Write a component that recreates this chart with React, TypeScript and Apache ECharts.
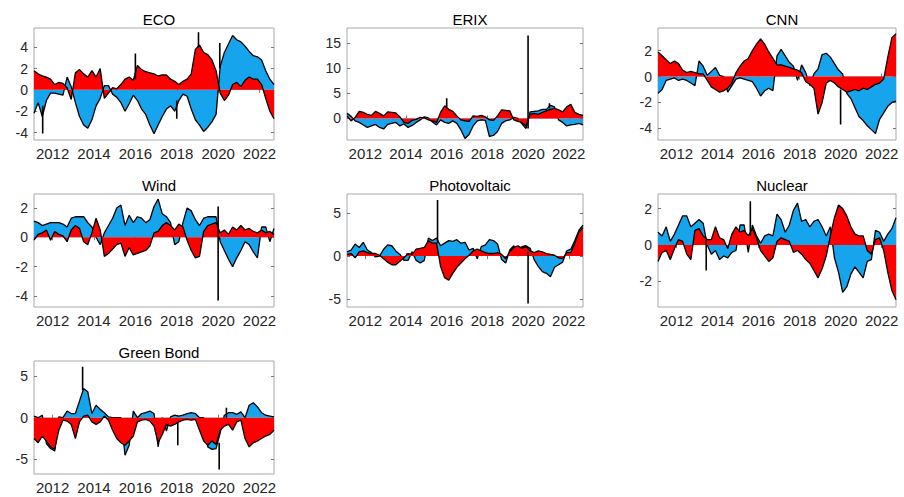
import React, { useEffect, useRef } from "react";
import * as echarts from "echarts";

// ---------- data ----------
const years = [
  2011.1, 2011.3, 2011.5, 2011.7, 2011.9,
  2012.1, 2012.3, 2012.5, 2012.7, 2012.9,
  2013.1, 2013.3, 2013.5, 2013.7, 2013.9,
  2014.1, 2014.3, 2014.5, 2014.7, 2014.9,
  2015.1, 2015.3, 2015.5, 2015.7, 2015.9,
  2016.1, 2016.3, 2016.5, 2016.7, 2016.9,
  2017.1, 2017.3, 2017.5, 2017.7, 2017.9,
  2018.1, 2018.3, 2018.5, 2018.7, 2018.9,
  2019.1, 2019.3, 2019.5, 2019.7, 2019.9,
  2020.1, 2020.3, 2020.5, 2020.7, 2020.9,
  2021.1, 2021.3, 2021.5, 2021.7, 2021.9,
  2022.1, 2022.3, 2022.5, 2022.7,
];

const xTickYears = [2012, 2014, 2016, 2018, 2020, 2022];

const titles = ["ECO", "ERIX", "CNN", "Wind", "Photovoltaic", "Nuclear", "Green Bond"];

const ecoRed = [
  1.8, 1.5, 1.3, 1.2, 1.0, 0.5, 0.7, 0.6, 0.2, -0.9,
  1.6, 1.9, 1.5, 1.2, 1.8, 1.2, 2.0, -0.8, -0.3, 0.2,
  0.1, 0.5, 1.0, 1.2, 0.9, 2.3, 1.9, 1.7, 1.6, 1.5,
  1.3, 1.4, 1.4, 1.0, 0.8, 0.5, 0.8, 1.0, 1.5, 3.8,
  4.2, 3.5, 3.3, 2.8, 1.8, -0.3, -1.0, -0.5, 0.5, 0.7,
  0.3, 0.9, 1.2, 1.0, 1.0, 0.5, -0.8, -2.0, -2.7,
];
const ecoBlue = [
  -2.2, -1.2, -2.5, -1.0, -0.3, -0.3, -0.4, -0.5, 1.0, 0.3,
  -1.2, -2.5, -3.3, -3.6, -2.8, -1.5, -0.8, 0.4, 0.4, -0.4,
  -0.7, -1.2, -2.0, -1.3, -0.5, -1.0, -1.8, -2.3, -3.3, -4.1,
  -3.3, -2.5, -1.8, -1.5, -2.0, -1.0, -0.4, -0.6, -1.8, -2.8,
  -3.3, -3.9, -3.5, -3.0, -2.3, 2.2, 3.5, 4.3, 4.6, 4.0,
  4.2, 3.2, 2.4, 2.2, 2.1, 2.3, 1.8, 1.0, 0.5,
];
const ecoSpikes = [
  [2011.52, -1.5, -4.1], [2016.0, 1.0, 3.4], [2018.0, -1.0, -2.7],
  [2019.05, 4.0, 5.4], [2020.08, 2.0, 4.4],
];

const erixRed = [
  0.5, -0.5, 0.2, 1.4, 1.2, 0.8, 0.6, 1.4, 1.0, 0.5,
  1.3, 1.2, 1.1, 0.3, -0.8, -1.0, -0.4, -0.2, 0.2, 0.1,
  -0.3, -0.5, -0.8, 1.2, 2.5, 1.8, 1.4, 0.5, -0.3, -0.5,
  -0.6, 0.5, 0.4, 0.6, 0.3, -0.3, -0.4, 0.5, 1.7, 1.6,
  1.5, -0.3, -0.6, -0.8, -1.5, 0.8, 1.0, 0.8, 1.2, 1.5,
  1.8, 2.0, 1.7, 1.3, 2.3, 2.8, 1.2, 0.8, 0.6,
];
const erixBlue = [
  0.5, 0.4, -0.5, -0.8, -1.3, -1.8, -1.5, -1.2, -1.8, -2.1,
  -1.2, -1.0, -0.8, -1.5, -0.3, -0.8, -1.0, -0.6, -0.3, 0.2,
  0.1, -0.2, -0.5, -0.3, -0.8, -1.0, -0.5, -1.0, -2.0, -3.5,
  -2.6, -1.5, -0.5, -0.3, -0.4, -3.3, -3.0, -2.6, -1.0, -0.5,
  -0.3, 0.2, 0.0, -0.3, -0.5, 0.5, 0.4, 0.7, 0.6, 0.3,
  0.8, 0.3, -0.3, -0.8, -1.5, -1.3, -1.2, -1.0, -1.3,
];
const erixSpikes = [[2016.0, 2.0, 4.0], [2020.0, -2.0, 16.5], [2021.05, 2.0, 3.0]];

const cnnRed = [
  1.9, 1.6, 1.3, 1.0, 1.2, 1.0, 0.5, 0.3, 0.4, 0.3,
  0.2, 0.2, -0.3, -0.8, -1.0, -1.2, -1.1, -0.9, -0.5, 0.3,
  0.8, 1.2, 1.4, 2.0, 2.5, 2.9, 2.5, 1.9, 1.4, 0.9,
  0.9, 0.8, 0.7, 0.6, 0.5, 0.3, -0.4, -0.6, -0.9, -2.9,
  -2.0, -0.5, -0.3, -0.5, -0.8, -1.0, -1.2, -1.1, -1.0, -1.1,
  -0.9, -1.0, -0.8, -0.6, -0.5, -0.2, 1.5, 3.0, 3.3,
];
const cnnBlue = [
  -1.3, -1.0, -0.3, -0.2, -0.1, -0.3, -0.2, -0.3, -0.5, -0.7,
  1.0, 0.6, 0.1, 0.4, 0.7, 0.1, 0.0, -0.3, -0.2, -0.2,
  -0.1, -0.2, -0.3, -0.4, -0.9, -1.5, -1.1, -0.9, -1.1, 0.7,
  1.2, 0.8, 0.4, 0.2, -0.3, 0.6, 0.3, -0.1, 0.2, 0.6,
  1.7, 1.8, 1.5, 1.0, 0.5, 0.2, -0.1, -0.6, -1.4, -2.0,
  -2.5, -2.8, -3.3, -3.8, -2.8, -2.6, -2.3, -2.0, -1.9,
];
const cnnSpikes = [[2020.0, -1.0, -3.7]];

const windRed = [
  -0.2, 0.2, 0.3, 0.5, -0.2, 0.4, 0.2, 0.1, -0.3, 0.5,
  0.8, 0.6, -0.3, -0.5, 0.3, 1.3, 0.5, -1.3, -1.1, -0.8,
  -0.5, -0.4, -1.3, -0.7, -1.2, -1.1, -1.0, -0.9, -0.6, 0.3,
  0.4, 0.8, 1.0, 0.8, 0.5, 0.9, 0.7, -0.2, -0.9, -1.4,
  -1.3, 0.4, 0.8, 0.9, 1.0, 0.3, 0.5, 0.2, 0.7, 0.5,
  0.8, 0.5, 0.6, 0.4, 0.3, 0.5, 0.3, 0.4, 0.2,
];
const windBlue = [
  1.1, 0.8, 0.5, 0.4, 1.0, 0.6, 0.8, 0.8, 0.7, 0.8,
  0.6, 0.8, 1.4, 1.0, 0.4, 0.0, -0.5, 0.3, 0.8, 1.3,
  2.0, 2.2, 0.8, 1.5, 1.0, 1.4, 1.3, 1.0, 1.2, 1.8,
  2.2, 0.8, 0.4, 0.2, -0.5, -0.3, 0.3, 2.0, 1.8, 1.2,
  0.8, 0.9, 0.6, 0.5, 0.4, -0.3, -0.9, -1.5, -2.0, -1.4,
  -0.9, -0.3, -0.5, -1.0, -1.4, 0.2, 0.4, -0.3, 0.4,
];
const windSpikes = [[2020.0, 2.1, -4.3]];

const pvRed = [
  0.2, 0.3, -0.2, 0.5, 0.6, 0.4, 0.3, 0.3, 0.1, -0.3,
  -0.7, -1.0, -1.0, -0.6, -0.2, 0.3, 0.2, 0.8, 0.9, 1.0,
  1.8, 1.5, 1.5, -1.2, -2.5, -2.8, -2.0, -1.3, -0.8, -0.3,
  0.1, 0.6, 0.8, 0.6, 0.4, 0.3, 0.3, 0.4, 0.2, -0.3,
  0.5, 1.0, 1.2, 0.9, 1.1, 0.6, 0.4, 0.6, 0.5, 0.3,
  0.2, 0.1, -0.2, -0.3, 0.4, 0.4, 1.5, 2.8, 3.3,
];
const pvBlue = [
  0.3, 0.4, 1.4, 0.5, 1.0, 0.3, 0.1, -0.1, 0.0, 0.8,
  1.3, 1.2, 0.6, 0.2, -0.3, -0.5, 0.3, -0.5, -0.8, -0.5,
  0.3, 0.3, 0.6, 1.2, 1.5, 1.8, 1.7, 1.9, 1.5, 1.6,
  0.6, 0.3, -0.3, 0.5, 0.9, 1.6, 1.5, 1.0, -0.4, -0.5,
  0.2, 0.2, 0.0, 0.2, 0.1, 0.3, -0.4, -1.2, -1.8, -2.0,
  -2.4, -1.3, -0.8, -0.4, 0.2, 0.4, 0.3, 0.2, 0.3,
];
const pvSpikes = [[2015.55, 1.5, 6.5], [2020.0, 0.5, -5.5]];

const nuclearRed = [
  -0.9, -0.4, -0.3, -0.8, -0.2, 0.3, 0.2, -0.5, -0.8, 0.8,
  0.9, 0.5, 0.3, 0.3, 1.0, 0.4, 0.3, -0.2, 0.6, 1.0,
  0.7, 0.8, 0.5, 0.9, 0.4, -0.3, -0.6, -0.9, -0.7, 0.2,
  0.4, 0.3, 0.2, -0.4, -0.3, -0.5, -0.8, -1.0, -1.4, -1.8,
  -1.3, -0.6, 0.5, 1.5, 2.2, 2.0, 1.6, 1.0, 0.6, 0.5,
  0.5, -0.3, -0.5, 0.3, 0.4, -0.3, -1.5, -2.5, -3.0,
];
const nuclearBlue = [
  0.7, 0.5, 1.0, 0.2, 0.6, 0.8, 1.4, 1.6, 1.0, 0.4,
  0.5, 0.7, 0.0, -0.5, -0.3, -0.8, -0.6, -0.5, -0.4, -0.3,
  0.4, 0.3, -0.4, 0.2, 0.1, 0.1, 0.5, 0.6, 0.5, 1.5,
  1.0, 0.4, 0.9, 1.9, 2.3, 1.3, 1.4, 1.0, 1.3, 1.4,
  1.0, 0.5, 0.5, -0.7, -1.5, -2.6, -2.3, -1.6, -1.2, -1.5,
  -1.8, -0.6, -0.3, 0.5, 0.3, 0.2, 0.6, 0.9, 1.5,
];
const nuclearSpikes = [[2015.6, 0.5, 2.4], [2013.45, 0.3, -1.4]];

const gbRed = [
  -2.5, -3.0, -2.2, -2.8, -3.5, -3.8, -1.5, -0.3, -0.4, -0.8,
  -2.5, -0.5, 0.2, 0.3, -0.5, -0.8, -0.5, 0.2, -0.3, -1.5,
  -2.5, -3.0, -3.3, -2.8, -2.2, -0.5, -0.3, -0.2, -0.4, -1.0,
  -3.0, -2.0, -0.8, -1.0, -0.8, -0.5, -0.3, -0.2, -0.3, -0.2,
  -1.5, -2.8, -3.3, -2.8, -3.2, -1.5, -1.0, -0.8, -1.5, -0.5,
  -0.3, -2.5, -3.5, -3.0, -2.8, -2.5, -2.2, -2.0, -1.5,
];
const gbBlue = [
  0.2, 0.0, 0.3, -0.3, -0.2, -0.2, 0.1, 0.0, 0.8, 0.5,
  0.5, 2.0, 3.3, 2.8, 0.5, 1.5, 1.0, 0.4, 0.1, 0.0,
  0.0, 0.0, -1.2, -0.5, 0.8, 0.0, 0.5, 0.6, 0.8, 0.5,
  -0.5, 0.0, -0.8, 0.1, 0.3, 0.2, 0.3, 0.5, 0.6, 0.5,
  0.0, 0.0, -0.2, -1.0, -0.5, -0.3, 0.3, 0.6, 0.6, 0.4,
  0.7, 0.0, 1.5, 1.8, 1.3, 0.6, 0.3, 0.2, 0.1,
];
const gbSpikes = [
  [2013.45, 3.3, 6.1], [2018.05, -0.5, -3.3], [2020.05, -3.0, -6.2], [2020.4, 0.0, 1.2],
];

const reds = [ecoRed, erixRed, cnnRed, windRed, pvRed, nuclearRed, gbRed];
const blues = [ecoBlue, erixBlue, cnnBlue, windBlue, pvBlue, nuclearBlue, gbBlue];
const spikes = [ecoSpikes, erixSpikes, cnnSpikes, windSpikes, pvSpikes, nuclearSpikes, gbSpikes];

const yMins = [-4.7, -4.3, -4.9, -4.75, -5.9, -3.4, -6.75];
const yMaxs = [5.8, 18, 3.75, 2.95, 7.2, 2.8, 6.8];
const yTicks = [
  [-4, -2, 0, 2, 4],
  [0, 5, 10, 15],
  [-4, -2, 0, 2],
  [-4, -2, 0, 2],
  [-5, 0, 5],
  [-2, 0, 2],
  [-5, 0, 5],
];

// ---------- layout ----------
const colLeft = [34, 347, 658];
const colWidth = [240, 236, 238];
const rowTop = [28, 194, 361];
const rowHeight = [112, 113, 113];

const RED = "#FF0000";
const BLUE = "#16A4EC";
const FONT = "'Liberation Sans', Arial, Helvetica, sans-serif";

function buildOption() {
  const grids: any[] = [];
  const xAxes: any[] = [];
  const yAxes: any[] = [];
  const series: any[] = [];
  const titleList: any[] = [];
  const xMin = years[0];
  const xMax = years[years.length - 1];
  const tickStyle = { show: true, inside: true, length: 3, lineStyle: { color: "#777" } };

  titles.forEach((name, i) => {
    const c = i % 3;
    const r = Math.floor(i / 3);
    const left = colLeft[c];
    const top = rowTop[r];
    const width = colWidth[c];
    const height = rowHeight[r];
    grids.push({
      left, top, width, height,
      show: true, borderColor: "#a8a8a8", borderWidth: 1,
      backgroundColor: "transparent", containLabel: false,
    });
    titleList.push({
      text: name,
      left: left + width / 2,
      top: top - 21,
      textAlign: "center",
      textStyle: { fontSize: 15, fontWeight: "normal", color: "#000", fontFamily: FONT },
    });
    // bottom axis (labels) and top axis (ticks only), like a boxed plot
    xAxes.push({
      type: "value",
      gridIndex: i,
      position: "bottom",
      min: xMin,
      max: xMax,
      axisLine: { show: false },
      splitLine: { show: false },
      axisTick: { ...tickStyle, customValues: xTickYears },
      axisLabel: {
        customValues: xTickYears,
        formatter: (v: number) => String(Math.round(v)),
        fontSize: 15, color: "#262626", margin: 6, fontFamily: FONT,
      },
    });
    xAxes.push({
      type: "value",
      gridIndex: i,
      position: "top",
      min: xMin,
      max: xMax,
      axisLine: { show: false },
      splitLine: { show: false },
      axisTick: { ...tickStyle, customValues: xTickYears },
      axisLabel: { show: false },
    });
    yAxes.push({
      type: "value",
      gridIndex: i,
      position: "left",
      min: yMins[i],
      max: yMaxs[i],
      axisLine: { show: false },
      splitLine: { show: false },
      axisTick: { ...tickStyle, customValues: yTicks[i] },
      axisLabel: {
        customValues: yTicks[i],
        fontSize: 14, color: "#262626", margin: 6, fontFamily: FONT,
      },
    });
    yAxes.push({
      type: "value",
      gridIndex: i,
      position: "right",
      min: yMins[i],
      max: yMaxs[i],
      axisLine: { show: false },
      splitLine: { show: false },
      axisTick: { ...tickStyle, customValues: yTicks[i] },
      axisLabel: { show: false },
    });
    const xi = 2 * i;
    const yi = 2 * i;
    // blue contribution drawn outside the red one: stacked on red when signs agree
    const blueOuter = blues[i].map((b, k) => {
      const rv = reds[i][k];
      return (b > 0 && rv > 0) || (b < 0 && rv < 0) ? rv + b : b;
    });
    series.push({
      type: "line",
      name: name + " blue",
      xAxisIndex: xi, yAxisIndex: yi,
      data: years.map((y, k) => [y, blueOuter[k]]),
      showSymbol: false, symbol: "none",
      lineStyle: { color: "#000", width: 1.3 },
      areaStyle: { color: BLUE, opacity: 1, origin: 0 },
      z: 2,
      silent: true,
    });
    series.push({
      type: "line",
      name: name + " red",
      xAxisIndex: xi, yAxisIndex: yi,
      data: years.map((y, k) => [y, reds[i][k]]),
      showSymbol: false, symbol: "none",
      lineStyle: { color: "#000", width: 1.3 },
      areaStyle: { color: RED, opacity: 1, origin: 0 },
      z: 3,
      silent: true,
    });
    spikes[i].forEach((s, j) => {
      series.push({
        type: "line",
        name: name + " spike " + j,
        xAxisIndex: xi, yAxisIndex: yi,
        data: [[s[0], s[1]], [s[0], s[2]]],
        showSymbol: false, symbol: "none",
        lineStyle: { color: "#000", width: 1.6 },
        z: 4,
        silent: true,
      });
    });
  });

  return {
    animation: false,
    backgroundColor: "#fff",
    title: titleList,
    grid: grids,
    xAxis: xAxes,
    yAxis: yAxes,
    series,
  };
}

export default function App() {
  const ref = useRef<HTMLDivElement>(null);
  useEffect(() => {
    document.body.style.margin = "0";
    if (!ref.current) return;
    const chart = echarts.init(ref.current, undefined, { renderer: "svg" });
    chart.setOption(buildOption() as any);
    return () => chart.dispose();
  }, []);
  return <div ref={ref} style={{ width: 904, height: 497 }} />;
}
